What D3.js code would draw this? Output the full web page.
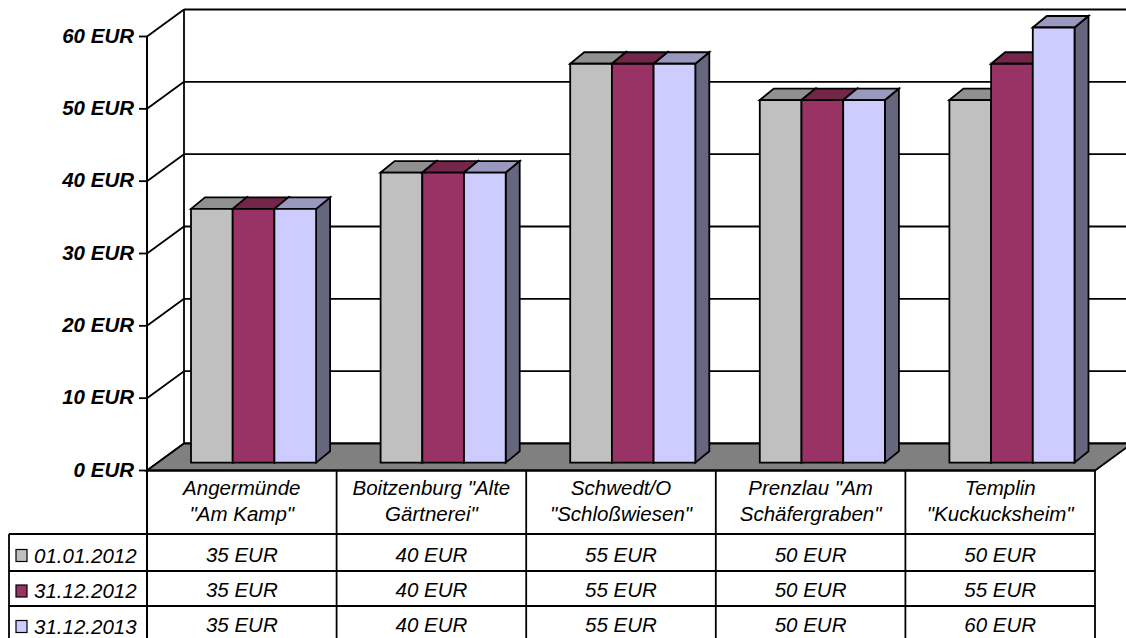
<!DOCTYPE html>
<html>
<head>
<meta charset="utf-8">
<script src="https://cdn.jsdelivr.net/npm/d3@7"></script>
<style>
html,body{margin:0;padding:0;background:#fff;overflow:hidden}
svg{display:block}
text{font-family:"Liberation Sans",Arial,sans-serif;font-style:italic;fill:#000}
</style>
</head>
<body>
<svg id="chart" width="1126" height="638"></svg>
<script>
const categories = [['Angermünde','"Am Kamp"'],['Boitzenburg "Alte','Gärtnerei"'],['Schwedt/O','"Schloßwiesen"'],['Prenzlau "Am','Schäfergraben"'],['Templin','"Kuckucksheim"']];
const seriesNames = ['01.01.2012','31.12.2012','31.12.2013'];
const valuesA = [35,40,55,50,50];
const valuesB = [35,40,55,50,55];
const valuesC = [35,40,55,50,60];
const seriesValues = [valuesA,valuesB,valuesC];
const faceColors = ['#c0c0c0','#993366','#ccccff'];
const topColors = ['#909090','#732649','#9999bf'];
const sideColors = ['#606060','#4d1933','#66667f'];
const axisTicks = [0,10,20,30,40,50,60];

const svg = d3.select('#chart');
const W = 1126;
const fontSize = 20.5;

// front plane of the axis; the back wall sits at a fixed depth offset
const left = 147, right = 1095, base = 470.5;
const depth = {x:37, y:-27};
const y = d3.scaleLinear().domain([0,60]).range([base,36.5]);
// bars stand slightly behind the front plane, so they get their own scale
const yBar = d3.scaleLinear().domain([0,60]).range([462.7,27.5]);
const x = d3.scaleBand().domain(d3.range(categories.length)).range([left,right]);
const barW = 41.7, barInset = 44, barDepth = {x:14, y:-11.5};
const strokeW = 1.8;

const poly = (g,pts,fill) => g.append('polygon')
  .attr('points',pts.map(p=>p.join(',')).join(' '))
  .attr('fill',fill).attr('stroke','#000').attr('stroke-width',strokeW)
  .attr('stroke-linejoin','miter');
const line = (g,a,b,w=strokeW) => g.append('line')
  .attr('x1',a[0]).attr('y1',a[1]).attr('x2',b[0]).attr('y2',b[1])
  .attr('stroke','#000').attr('stroke-width',w);

// walls and gridlines
const wall = svg.append('g');
axisTicks.forEach(t=>{
  const py = y(t);
  line(wall,[left,py],[left+depth.x,py+depth.y]);
  line(wall,[left+depth.x,py+depth.y],[W+2,py+depth.y]);
  line(wall,[left-8,py],[left,py]);
});
line(wall,[left+depth.x,y(60)+depth.y],[left+depth.x,base+depth.y]);
line(wall,[left,y(60)],[left,638],2);

// floor
poly(svg.append('g'),[[left,base],[left+depth.x,base+depth.y],[right+depth.x,base+depth.y],[right,base]],'#808080');

// bars, drawn per category and left to right so later bars overlap earlier tops
const bars = svg.append('g');
categories.forEach((c,i)=>{
  const x0 = x(i)+barInset;
  seriesValues.forEach((vals,s)=>{
    const bx = x0+s*barW, by = yBar(vals[i]), bb = yBar(0);
    const d = barDepth;
    poly(bars,[[bx+barW,by],[bx+barW+d.x,by+d.y],[bx+barW+d.x,bb+d.y],[bx+barW,bb]],sideColors[s]);
    poly(bars,[[bx,by],[bx+d.x,by+d.y],[bx+barW+d.x,by+d.y],[bx+barW,by]],topColors[s]);
    poly(bars,[[bx,by],[bx+barW,by],[bx+barW,bb],[bx,bb]],faceColors[s]);
  });
});

// value axis labels
svg.append('g').selectAll('text').data(axisTicks).join('text')
  .attr('x',134).attr('y',t=>y(t)+6).attr('text-anchor','end')
  .attr('font-size',fontSize).attr('font-weight','bold')
  .text(t=>t+' EUR');

// data table below the plot; the last row runs off the bottom edge
const rows = [534,571,606];
const table = svg.append('g');
const tableLeft = 9;
line(table,[left,base],[right,base],2);
x.domain().concat([categories.length]).forEach(i=>{
  const px = i<categories.length ? x(i) : right;
  line(table,[px,base],[px,638]);
});
rows.forEach(r=>line(table,[tableLeft,r],[right,r]));
line(table,[tableLeft,rows[0]],[tableLeft,638]);

categories.forEach((c,i)=>{
  const cx = x(i)+x.bandwidth()/2;
  c.forEach((t,k)=>table.append('text').attr('x',cx).attr('y',494.5+k*26.5)
    .attr('text-anchor','middle').attr('font-size',fontSize).text(t));
  seriesValues.forEach((vals,s)=>table.append('text').attr('x',cx).attr('y',[561.5,597,632][s])
    .attr('text-anchor','middle').attr('font-size',fontSize).text(vals[i]+' EUR'));
});
seriesNames.forEach((n,s)=>{
  const ty = [562.5,598,633.5][s];
  table.append('rect').attr('x',16).attr('y',ty-13).attr('width',11).attr('height',12)
    .attr('fill',faceColors[s]).attr('stroke','#000').attr('stroke-width',1.2);
  table.append('text').attr('x',34).attr('y',ty).attr('font-size',fontSize).text(n);
});
</script>
</body>
</html>
